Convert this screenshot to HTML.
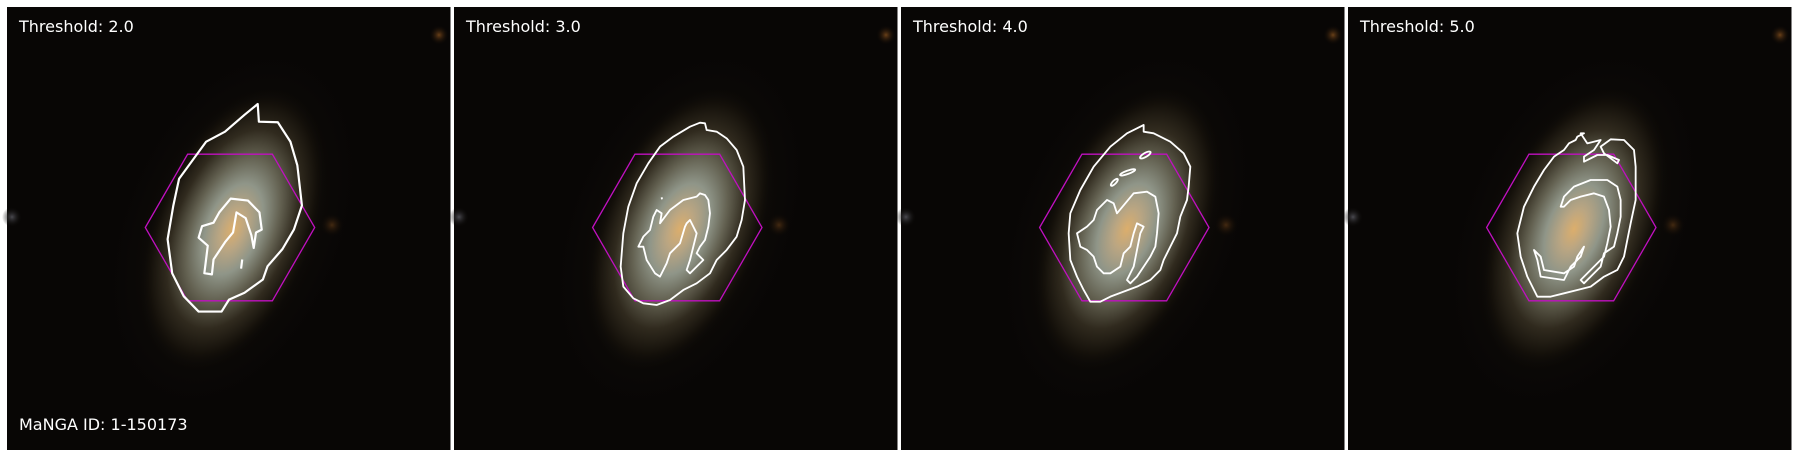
<!DOCTYPE html>
<html><head><meta charset="utf-8"><style>
html,body{margin:0;padding:0;background:#fff;}
svg{display:block;}
text{font-family:"DejaVu Sans","Liberation Sans",sans-serif;font-size:16px;fill:#fff;}
</style></head><body>
<svg width="1800" height="457" viewBox="0 0 1800 457">
<defs>
<radialGradient id="gal" cx="0.5" cy="0.5" r="0.5">
<stop offset="0" stop-color="#dcae6c"/>
<stop offset="0.14" stop-color="#bba682"/>
<stop offset="0.32" stop-color="#8f9588"/>
<stop offset="0.5" stop-color="#646252"/>
<stop offset="0.7" stop-color="#302a1e"/>
<stop offset="0.88" stop-color="#14100a"/>
<stop offset="1" stop-color="#0a0806" stop-opacity="0"/>
</radialGradient>
<radialGradient id="halo" cx="0.5" cy="0.5" r="0.5">
<stop offset="0" stop-color="#2e2618" stop-opacity="0.8"/>
<stop offset="1" stop-color="#0a0806" stop-opacity="0"/>
</radialGradient>
<radialGradient id="blob" cx="0.5" cy="0.5" r="0.5">
<stop offset="0" stop-color="#6a4018"/>
<stop offset="1" stop-color="#0a0604" stop-opacity="0"/>
</radialGradient>
<radialGradient id="grey" cx="0.5" cy="0.5" r="0.5">
<stop offset="0" stop-color="#4a4a50"/>
<stop offset="1" stop-color="#0a0806" stop-opacity="0"/>
</radialGradient>
<g id="bg">
<rect x="0" y="0" width="443.5" height="443" fill="#080605"/>
<ellipse cx="226" cy="222" rx="200" ry="120" fill="url(#halo)" transform="rotate(-68 226 222)"/>
<ellipse cx="226" cy="222" rx="150" ry="82" fill="url(#gal)" transform="rotate(-68 226 222)"/>
<circle cx="432" cy="28" r="10" fill="url(#blob)"/>
<circle cx="325" cy="218" r="12" fill="url(#blob)" opacity="0.6"/>
<circle cx="5" cy="210" r="10" fill="url(#grey)"/>
</g>
<polygon id="hex" points="-84.7,0 -42.35,-73.3 42.35,-73.3 84.7,0 42.35,73.3 -42.35,73.3" fill="none" stroke="#c010c0" stroke-width="1.3"/>
</defs>

<g>
<use href="#bg" x="7" y="7"/>
<use href="#hex" x="230" y="227.5"/>
<g transform="scale(1.148)" fill="none" stroke="#fff" stroke-width="1.9" stroke-linejoin="round">
<path d="M224.5,90.6 L225.5,106 L242,106.5 L253,123.5 L259,144 L261,161.5 L263,179 L256,200 L246,217 L233,232 L229,243.5 L213,255 L199.5,261 L193,271.4 L173,271.4 L160,258 L150,238 L146,208.4 L151,179 L156,155.7 L179.6,123.4 L196,114.7 L213,100 Z"/>
<path d="M201,173 L216,174.7 L226,185 L228,200 L223,202.5 L221,216 L219,205 L214,190 L206,185 L203,202.5 L196,211 L186,226 L184.6,239 L178,238 L181,214 L173,207 L176,197 L186,194 L191,185 Z"/>
<path d="M211,226 L210,234"/>
</g>
<text x="19" y="32">Threshold: 2.0</text>
<text x="19" y="430">MaNGA ID: 1-150173</text>
</g>

<g>
<use href="#bg" x="454" y="7"/>
<use href="#hex" x="677.3" y="227.5"/>
<g transform="translate(590,100) scale(0.3333)" fill="none" stroke="#fff" stroke-width="5.5" stroke-linejoin="round">
<path d="M330,68 L345,70 L350,90 L380,95 L410,115 L440,150 L460,200 L462,240 L465,300 L455,360 L440,410 L410,450 L380,480 L360,520 L320,550 L280,570 L240,600 L200,615 L160,610 L130,595 L100,560 L92,500 L100,400 L115,320 L140,250 L175,190 L210,140 L250,110 L300,80 Z"/>
<path d="M280,300 L320,290 L330,280 L345,285 L355,300 L360,340 L355,380 L345,420 L330,440 L320,460 L340,480 L320,500 L300,520 L290,510 L300,480 L310,440 L320,400 L300,360 L290,370 L285,380 L270,430 L240,460 L230,490 L210,530 L195,520 L170,480 L160,440 L145,440 L160,410 L180,390 L190,350 L200,330 L215,340 L210,370 L240,330 Z"/>
<path d="M215,292 L216,298"/>
</g>
<text x="466" y="32">Threshold: 3.0</text>
</g>

<g>
<use href="#bg" x="901" y="7"/>
<use href="#hex" x="1124.3" y="227.5"/>
<g transform="translate(1037,100) scale(0.3333)" fill="none" stroke="#fff" stroke-width="5.5" stroke-linejoin="round">
<path d="M320,75 L320,95 L350,100 L400,125 L440,160 L460,200 L455,260 L450,300 L430,350 L420,400 L400,440 L380,480 L370,510 L340,540 L300,560 L260,575 L220,590 L190,605 L160,605 L140,570 L120,530 L100,480 L95,400 L100,340 L130,270 L170,200 L220,140 L270,100 Z"/>
<path d="M290,280 L330,275 L355,290 L365,340 L360,400 L355,440 L340,470 L320,500 L300,530 L280,550 L270,540 L290,500 L300,450 L310,400 L320,380 L300,370 L290,400 L280,440 L260,460 L250,500 L220,520 L200,520 L180,500 L170,470 L150,450 L130,440 L120,400 L150,380 L170,360 L180,330 L210,300 L230,310 L240,340 Z"/>
<ellipse cx="325" cy="165" rx="18" ry="6" transform="rotate(-30 325 165)"/>
<ellipse cx="272" cy="217" rx="24" ry="5" transform="rotate(-20 272 217)"/>
<ellipse cx="232" cy="247" rx="14" ry="5" transform="rotate(-45 232 247)"/>
</g>
<text x="913" y="32">Threshold: 4.0</text>
</g>

<g>
<use href="#bg" x="1348" y="7"/>
<use href="#hex" x="1571.3" y="227.5"/>
<g transform="translate(1484,100) scale(0.3333)" fill="none" stroke="#fff" stroke-width="5.5" stroke-linejoin="round">
<path d="M290,100 L300,100 L280,110 L275,120 L255,130 L240,150 L210,170 L180,210 L150,260 L120,320 L100,400 L110,470 L130,530 L160,590 L200,590 L240,580 L280,570 L320,560 L360,530 L400,510 L420,470 L430,420 L440,370 L455,300 L455,250 L455,200 L450,150 L420,120 L380,118 L350,140 L360,160 L400,190 L405,180 L370,165 L340,165 L300,185 L300,170 L330,150 L350,120 L310,130 Z"/>
<path d="M230,320 L240,290 L270,260 L320,240 L370,240 L400,260 L410,300 L410,350 L400,400 L390,440 L360,460 L350,500 L320,530 L300,550 L290,540 L330,500 L360,470 L370,430 L380,380 L375,330 L360,290 L330,280 L290,290 L260,300 L240,320 Z"/>
<path d="M150,450 L160,480 L170,530 L240,540 L260,500 L290,470 L300,440 L280,470 L270,500 L240,520 L180,510 L170,470 Z"/>
</g>
<text x="1360" y="32">Threshold: 5.0</text>
</g>
</svg>
</body></html>
